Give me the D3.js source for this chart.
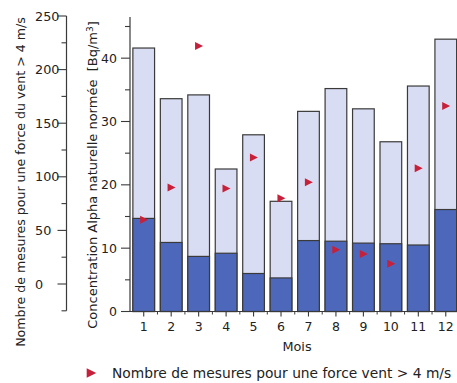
<!DOCTYPE html>
<html>
<head>
<meta charset="utf-8">
<script src="https://cdn.jsdelivr.net/npm/d3@7"></script>
<style>
  html, body { margin: 0; padding: 0; background: #fff; }
  svg { display: block; }
  text { font-family: "DejaVu Sans", Verdana, sans-serif; fill: #222; }
</style>
</head>
<body>
<svg id="chart" width="457" height="383"></svg>
<script>
// Monthly data
const months = ["1", "2", "3", "4", "5", "6", "7", "8", "9", "10", "11", "12"];
// Total normalised natural alpha concentration [Bq/m3]
const concTotal = [41.6, 33.6, 34.2, 22.5, 27.9, 17.4, 31.6, 35.2, 32.0, 26.8, 35.6, 43.0];
// Lower (darker) part of each bar
const concLower = [14.7, 10.9, 8.7, 9.2, 6.0, 5.3, 11.2, 11.1, 10.8, 10.7, 10.5, 16.1];
// Number of measurements with wind force > 4 m/s
const windCount = [60, 90, 222, 89, 118, 80, 95, 32, 28, 19, 108, 166];

const leftTicks = [0, 50, 100, 150, 200, 250];
const concTicks = [0, 10, 20, 30, 40];

const svg = d3.select("#chart");

const x = d3.scaleBand().domain(months).range([130, 459.5]).paddingInner(0.21).paddingOuter(0.105);
const yConc = d3.scaleLinear().domain([0, 46.5]).range([311.5, 17]);
const yCount = d3.scaleLinear().domain([-25, 250]).range([310.8, 16]);

const colLight = "#d9ddf3";
const colDark = "#4d68bb";
const colRed = "#c7203a";
const stroke = "#3a3a3a";

// Bars: full height in light blue, lower part in dark blue
const g = svg.append("g");
g.selectAll("rect.total").data(months).join("rect")
  .attr("class", "total")
  .attr("x", d => x(d))
  .attr("width", x.bandwidth())
  .attr("y", (d, i) => yConc(concTotal[i]))
  .attr("height", (d, i) => yConc(0) - yConc(concTotal[i]))
  .attr("fill", colLight)
  .attr("stroke", stroke).attr("stroke-width", 1.2);

g.selectAll("rect.lower").data(months).join("rect")
  .attr("class", "lower")
  .attr("x", d => x(d))
  .attr("width", x.bandwidth())
  .attr("y", (d, i) => yConc(concLower[i]))
  .attr("height", (d, i) => yConc(0) - yConc(concLower[i]))
  .attr("fill", colDark)
  .attr("stroke", stroke).attr("stroke-width", 1.2);

// Wind count markers (right-pointing triangles)
const tri = (cx, cy, s = 1) =>
  `M${cx - 3.6 * s},${cy - 4 * s}L${cx + 4.4 * s},${cy}L${cx - 3.6 * s},${cy + 4 * s}Z`;
g.selectAll("path.mark").data(months).join("path")
  .attr("class", "mark")
  .attr("d", (d, i) => tri(x(d) + x.bandwidth() / 2, yCount(windCount[i])))
  .attr("fill", colRed);

// Concentration axis (inner)
const axisC = svg.append("g").attr("transform", "translate(130,0)");
axisC.append("line").attr("x1", 0).attr("x2", 0)
  .attr("y1", yConc(46.5)).attr("y2", yConc(0)).attr("stroke", stroke).attr("stroke-width", 1.2);
axisC.selectAll("line.minor").data(d3.range(0, 46, 5)).join("line")
  .attr("class", "minor")
  .attr("x1", d => concTicks.includes(d) ? -9 : -5).attr("x2", 0)
  .attr("y1", d => yConc(d)).attr("y2", d => yConc(d))
  .attr("stroke", stroke).attr("stroke-width", 1.1);
axisC.selectAll("text").data(concTicks).join("text")
  .attr("x", -13).attr("y", d => yConc(d)).attr("dy", "0.36em")
  .attr("text-anchor", "end").attr("font-size", 12.5)
  .text(d => d);

// Month axis
const axisX = svg.append("g");
axisX.append("line").attr("x1", 128).attr("x2", 459)
  .attr("y1", yConc(0)).attr("y2", yConc(0)).attr("stroke", stroke).attr("stroke-width", 1.2);
axisX.selectAll("line.center").data(months).join("line")
  .attr("class", "center")
  .attr("x1", d => x(d) + x.bandwidth() / 2).attr("x2", d => x(d) + x.bandwidth() / 2)
  .attr("y1", yConc(0)).attr("y2", yConc(0) + 5)
  .attr("stroke", stroke).attr("stroke-width", 1.1);
axisX.selectAll("line.edge").data(months.slice(1)).join("line")
  .attr("class", "edge")
  .attr("x1", d => x(d) - x.step() * x.paddingInner() / 2).attr("x2", d => x(d) - x.step() * x.paddingInner() / 2)
  .attr("y1", yConc(0)).attr("y2", yConc(0) + 3)
  .attr("stroke", stroke).attr("stroke-width", 1);
axisX.selectAll("text").data(months).join("text")
  .attr("x", d => x(d) + x.bandwidth() / 2).attr("y", 326).attr("dy", "0.36em")
  .attr("text-anchor", "middle").attr("font-size", 12.5)
  .text(d => d);
svg.append("text").attr("x", 297).attr("y", 346).attr("dy", "0.36em")
  .attr("text-anchor", "middle").attr("font-size", 12.8).text("Mois");

// Wind count axis (outer left)
const axisL = svg.append("g").attr("transform", "translate(66.5,0)");
axisL.append("line").attr("x1", 0).attr("x2", 0)
  .attr("y1", yCount(250)).attr("y2", yCount(-25)).attr("stroke", stroke).attr("stroke-width", 1.2);
axisL.selectAll("line.t").data(d3.range(-25, 251, 25)).join("line")
  .attr("class", "t")
  .attr("x1", d => leftTicks.includes(d) ? -9 : -5).attr("x2", 0)
  .attr("y1", d => yCount(d)).attr("y2", d => yCount(d))
  .attr("stroke", stroke).attr("stroke-width", 1.1);
axisL.selectAll("text").data(leftTicks).join("text")
  .attr("x", -31.5).attr("y", d => yCount(d)).attr("dy", "0.36em")
  .attr("text-anchor", "start").attr("font-size", 12.8)
  .text(d => d);

// Axis titles
svg.append("text")
  .attr("transform", "translate(20,182) rotate(-90)")
  .attr("dy", "0.36em").attr("text-anchor", "middle").attr("font-size", 12.6)
  .text("Nombre de mesures pour une force du vent > 4 m/s");
const tC = svg.append("text")
  .attr("transform", "translate(92,175) rotate(-90)")
  .attr("dy", "0.36em").attr("text-anchor", "middle").attr("font-size", 13);
tC.append("tspan").text("Concentration Alpha naturelle normée\u00a0\u00a0[Bq/m");
tC.append("tspan").attr("dy", "-0.4em").attr("font-size", 9).text("3");
tC.append("tspan").attr("dy", "0.4em").text("]");

// Legend
svg.append("path").attr("d", tri(91, 373, 1.2)).attr("fill", colRed);
svg.append("text").attr("x", 112).attr("y", 373).attr("dy", "0.36em")
  .attr("font-size", 13.8).text("Nombre de mesures pour une force vent > 4 m/s");
</script>
</body>
</html>
